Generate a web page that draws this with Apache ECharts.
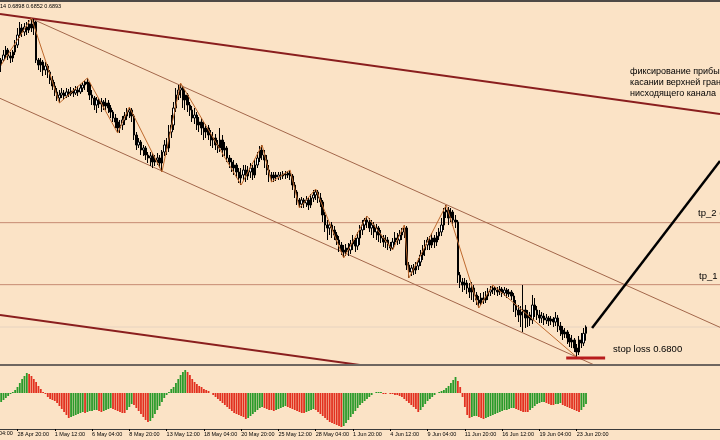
<!DOCTYPE html>
<html><head><meta charset="utf-8">
<script src="https://cdn.jsdelivr.net/npm/echarts@6/dist/echarts.min.js"></script>
<style>html,body{margin:0;padding:0;background:#FBE3C6;}#c{width:720px;height:440px;}</style>
</head><body><div id="c"></div>
<script>
// ---- DATA (prices are in units of 0.0001, e.g. 6800 = 0.6800) ----
const SLOTS = 309;               // bar slots across the window (incl. empty right shift)
const tickFirst = 7, tickStep = 16;
const tickLabels = ['28 Apr 20:00','1 May 12:00','6 May 04:00','8 May 20:00','13 May 12:00','18 May 04:00','20 May 20:00','25 May 12:00','28 May 04:00','1 Jun 20:00','4 Jun 12:00','9 Jun 04:00','11 Jun 20:00','16 Jun 12:00','19 Jun 04:00','23 Jun 20:00'];
// [open, close, low, high]
const ohlc = [
[7679,7694,7658,7700],[7694,7709,7688,7724],[7709,7724,7700,7736],[7724,7706,7694,7730],[7706,7700,7685,7718],
[7700,7718,7688,7724],[7718,7739,7709,7754],[7739,7769,7730,7790],[7769,7790,7760,7808],[7790,7778,7763,7802],
[7778,7793,7766,7805],[7793,7784,7769,7808],[7784,7802,7775,7814],[7802,7790,7778,7820],[7790,7808,7769,7817],
[7808,7694,7685,7811],[7694,7679,7664,7700],[7679,7688,7658,7700],[7688,7664,7646,7694],[7664,7676,7649,7688],
[7676,7658,7640,7682],[7658,7634,7622,7664],[7634,7616,7604,7646],[7616,7598,7586,7628],[7598,7580,7571,7610],
[7580,7589,7565,7604],[7589,7595,7580,7610],[7595,7586,7574,7604],[7586,7598,7580,7610],[7598,7592,7583,7607],
[7592,7601,7586,7613],[7601,7595,7583,7610],[7595,7604,7589,7616],[7604,7598,7586,7616],[7598,7610,7592,7622],
[7610,7619,7598,7628],[7619,7628,7604,7634],[7628,7622,7598,7640],[7622,7589,7574,7628],[7589,7580,7559,7604],
[7580,7559,7544,7586],[7559,7574,7535,7583],[7574,7562,7550,7580],[7562,7568,7538,7580],[7568,7556,7544,7574],
[7556,7565,7544,7580],[7565,7550,7535,7574],[7550,7538,7520,7559],[7538,7520,7508,7544],[7520,7508,7490,7532],
[7508,7490,7475,7520],[7490,7499,7475,7514],[7499,7514,7484,7526],[7514,7526,7499,7538],[7526,7538,7514,7550],
[7538,7544,7520,7553],[7544,7526,7508,7550],[7526,7469,7454,7532],[7469,7439,7424,7478],[7439,7448,7430,7460],
[7448,7424,7409,7454],[7424,7430,7406,7439],[7430,7409,7394,7436],[7409,7400,7385,7418],[7400,7406,7376,7418],
[7406,7388,7370,7415],[7388,7394,7376,7409],[7394,7400,7379,7415],[7400,7385,7370,7409],[7385,7418,7358,7424],
[7418,7439,7406,7454],[7439,7430,7409,7460],[7430,7478,7418,7499],[7478,7499,7460,7529],[7499,7550,7484,7568],
[7550,7589,7538,7610],[7589,7604,7574,7619],[7604,7610,7580,7625],[7610,7574,7550,7616],[7574,7589,7544,7604],
[7589,7559,7538,7595],[7559,7544,7526,7568],[7544,7520,7508,7556],[7520,7529,7502,7550],[7529,7499,7484,7538],
[7499,7508,7478,7523],[7508,7490,7469,7520],[7490,7478,7454,7508],[7478,7490,7460,7502],[7490,7469,7454,7499],
[7469,7454,7436,7484],[7454,7460,7430,7478],[7460,7439,7424,7472],[7439,7430,7415,7454],[7430,7454,7418,7490],
[7454,7424,7403,7469],[7424,7430,7406,7448],[7430,7400,7388,7436],[7400,7388,7370,7409],[7388,7370,7358,7400],
[7370,7379,7349,7394],[7379,7358,7340,7385],[7358,7340,7325,7370],[7340,7349,7319,7370],[7349,7364,7334,7379],
[7364,7346,7328,7379],[7346,7358,7334,7376],[7358,7370,7340,7385],[7370,7349,7334,7379],[7349,7379,7340,7394],
[7379,7400,7370,7418],[7400,7424,7388,7436],[7424,7409,7394,7439],[7409,7394,7370,7424],[7394,7364,7349,7409],
[7364,7349,7328,7379],[7349,7340,7328,7358],[7340,7349,7328,7358],[7349,7343,7331,7358],[7343,7349,7334,7358],
[7349,7346,7334,7358],[7346,7352,7337,7361],[7352,7349,7337,7361],[7349,7355,7340,7361],[7355,7346,7334,7364],
[7346,7319,7304,7352],[7319,7298,7280,7328],[7298,7274,7259,7304],[7274,7262,7250,7280],[7262,7274,7250,7283],
[7274,7265,7250,7280],[7265,7274,7253,7286],[7274,7259,7244,7280],[7259,7280,7250,7292],[7280,7289,7268,7304],
[7289,7298,7274,7307],[7298,7280,7265,7304],[7280,7268,7253,7295],[7268,7229,7208,7274],[7229,7199,7178,7238],
[7199,7190,7154,7214],[7190,7199,7169,7208],[7199,7184,7160,7208],[7184,7169,7154,7196],[7169,7154,7139,7178],
[7154,7139,7118,7166],[7139,7124,7109,7148],[7124,7118,7100,7139],[7118,7130,7106,7142],[7130,7124,7106,7145],
[7124,7142,7112,7154],[7142,7154,7124,7169],[7154,7136,7118,7160],[7136,7160,7124,7178],[7160,7184,7139,7199],
[7184,7199,7169,7214],[7199,7214,7184,7220],[7214,7208,7190,7226],[7208,7190,7178,7220],[7190,7199,7169,7214],
[7199,7178,7160,7208],[7178,7190,7154,7202],[7190,7169,7148,7196],[7169,7160,7145,7184],[7160,7148,7133,7169],
[7148,7154,7130,7169],[7154,7139,7124,7163],[7139,7130,7121,7148],[7130,7148,7124,7160],[7148,7160,7139,7178],
[7160,7154,7139,7175],[7154,7169,7142,7184],[7169,7178,7154,7190],[7178,7190,7160,7199],[7190,7079,7064,7196],
[7079,7058,7040,7088],[7058,7070,7046,7079],[7070,7064,7049,7082],[7064,7076,7052,7088],[7076,7088,7064,7100],
[7088,7109,7076,7124],[7109,7124,7094,7139],[7124,7139,7106,7154],[7139,7154,7124,7163],[7154,7139,7124,7166],
[7139,7160,7130,7175],[7160,7148,7130,7169],[7148,7166,7136,7178],[7166,7178,7154,7190],[7178,7199,7166,7220],
[7199,7238,7184,7250],[7238,7244,7220,7259],[7244,7220,7199,7253],[7220,7238,7208,7250],[7238,7214,7196,7244],
[7214,7208,7190,7229],[7208,7049,7025,7214],[7049,7028,7010,7058],[7028,7019,6998,7040],[7019,7025,7004,7040],
[7025,7010,6992,7034],[7010,6998,6980,7025],[6998,7010,6974,7028],[7010,6989,6968,7019],[6989,6974,6959,6998],
[6974,6965,6950,6986],[6965,6980,6959,6995],[6980,6974,6962,6998],[6974,6986,6965,7001],[6986,6998,6974,7010],
[6998,7004,6986,7016],[7004,7010,6992,7019],[7010,7004,6989,7016],[7004,6998,6986,7013],[6998,7007,6989,7016],
[7007,6995,6983,7013],[6995,7004,6986,7013],[7004,6992,6980,7010],[6992,6998,6983,7007],[6998,6986,6974,7004],
[6986,6959,6938,6995],[6959,6944,6923,6974],[6944,6929,6908,6959],[6929,6938,6893,6956],[6938,6944,6878,7019],
[6944,6920,6890,6959],[6920,6929,6893,6944],[6929,6914,6896,6938],[6914,6959,6902,6989],[6959,6944,6923,6980],
[6944,6929,6914,6956],[6929,6920,6905,6944],[6920,6926,6905,6938],[6926,6914,6899,6935],[6914,6920,6902,6932],
[6920,6911,6896,6926],[6911,6917,6899,6926],[6917,6908,6893,6923],[6908,6920,6896,6938],[6920,6896,6878,6929],
[6896,6884,6866,6908],[6884,6872,6854,6896],[6872,6878,6860,6890],[6878,6860,6842,6884],[6860,6848,6833,6872],
[6848,6854,6830,6869],[6854,6830,6818,6860],[6830,6818,6803,6842],[6818,6854,6809,6866],[6854,6845,6830,6875],
[6845,6874,6836,6890],[6874,6893,6852,6898]
];
// oscillator histogram (one value per bar)
const osma = [
-9,-7,-5,-3,-1, 1,3,6,10,14,17,20, 19,17,14,11,7,4,1,
-1,-4,-6,-7,-8,-10,-13,-16,-19,-22,-25, -24,-23,-22,-21,-20,-19, -20, -19,-18,-18,-17,-17, -18,-19,
-18,-17,-16,-15, -16,-17,-18,-19,-20,-20, -17,-14,-11, -12, -15,-18,-21,-24,-27,-29,
-28,-25,-21,-17,-13,-9,-5,-2,1,4, 6,10,14,18,21,23, 21,18,14,11,9,7,6,4,3,2,0,
-2,-4,-6,-8,-10,-12,-14,-16,-18,-20,-21,-22,-23,-24,-26, -25,-23,-21,-19,-17,-15,-14,
-15,-16,-17,-17,-18, -17,-16,-15,-14,-13, -14,-15,-16,-17,-18,-19,-20,-20, -19,-18,-17,-16,
-17,-19,-21,-23,-25,-27,-29,-30,-31,-32,-33,-34, -33,-30,-27,-24,-21,-18,-15,-12,
-10,-8,-6,-4,-2,0, 1,1,1, -1,-1,0,-1, -1,-2,-2,-3,-4,-6,-8,-10,-12,-14,-16,-19,
-17,-14,-11,-8,-6,-4,-2,0, 1,2,3,5,7,10,13,16, 12,6,-4,-14,-22,-25, -24,-23,-23, -24,-25,-26,
-25,-24,-23,-22,-21,-20,-19,-18,-17,-17,-16,-15,-15, -16,-17,-18,-19,-19,-19,
-17,-15,-13,-11,-10,-9,-9, -10,-11,-12,-12, -11,-11,-10, -12,-13,-14,-15,-16,-17,-18,-19, -17,-14,-11
];
// zigzag swing points [bar, price]
const zigzag = [[0,7679],[13,7820],[25,7565],[37,7640],[50,7475],[55,7553],[69,7358],[77,7625],[103,7319],[112,7439],[116,7328],[124,7364],[128,7250],[135,7307],[147,7100],[157,7226],[168,7124],[173,7199],[175,7040],[191,7259],[205,6950],[211,7019],[247,6803]];
// trend lines [bar, price]
const channelUpper = [[12.4,7820],[308.5,6892]];
const channelLower = [[-0.5,7579],[308.5,6610]];
const bigUpper = [[-0.5,7832],[308.5,7532]];
const bigLower = [[-0.5,6929],[308.5,6629]];
const forecast = [[253.6,6890],[308.5,7391]];
const tp2 = 7206, tp1 = 7020, bid = 6893, stopLoss = 6800;
const stopSpan = [242.5, 259.2];
const headerText = '14 0.6898 0.6852 0.6893';
const noteLines = ['фиксирование прибы','касании верхней гран','нисходящего канала'];

// ---- CHART ----
const chart = echarts.init(document.getElementById('c'), null, {renderer:'canvas'});
const slots = Array.from({length: SLOTS}, (_, i) => String(i));
const isTick = i => i >= tickFirst && (i - tickFirst) % tickStep === 0 && (i - tickFirst) / tickStep < tickLabels.length;
const GREEN = '#2A9A2A', RED = '#E2301F';
let prevColor = GREEN;
const osmaData = osma.map((v, i) => {
  let c = prevColor;
  if (i > 0) { if (v > osma[i-1]) c = GREEN; else if (v < osma[i-1]) c = RED; }
  prevColor = c;
  return {value: v, itemStyle: {color: c}};
});
const hline = v => [[-0.5, v], [308.5, v]];
const lineS = (data, color, width, extra) => Object.assign({
  type: 'line', xAxisIndex: 1, yAxisIndex: 0, data, symbol: 'none', silent: true,
  lineStyle: {color, width}, z: 3
}, extra || {});

const option = {
  animation: false,
  backgroundColor: '#FBE3C6',
  grid: [
    {left: 0, right: 0, top: 3, height: 362},
    {left: 0, right: 0, top: 367, height: 62}
  ],
  xAxis: [
    {type: 'category', gridIndex: 0, data: slots, show: false, boundaryGap: true},
    {type: 'value', gridIndex: 0, min: -0.5, max: 308.5, show: false},
    {type: 'category', gridIndex: 1, data: slots, boundaryGap: true, position: 'bottom',
     axisLine: {show: true, onZero: false, lineStyle: {color: '#3a3a3a', width: 1}},
     axisTick: {show: true, alignWithLabel: true, length: 2, interval: (i) => isTick(i), lineStyle: {color: '#000'}},
     axisLabel: {show: true, interval: (i) => isTick(i), align: 'left', margin: 2, fontSize: 5.5,
       fontFamily: 'Liberation Sans', color: '#000',
       formatter: (v, i) => isTick(i) ? tickLabels[(i - tickFirst) / tickStep] : ''},
     splitLine: {show: false}}
  ],
  yAxis: [
    {type: 'value', gridIndex: 0, min: 6779, max: 7865, show: false},
    {type: 'value', gridIndex: 1, min: -36, max: 26, show: false}
  ],
  series: [
    lineS(hline(tp2), '#C58A72', 1),
    lineS(hline(tp1), '#C58A72', 1),
    lineS(hline(bid), '#E6D3C0', 1),
    lineS(channelUpper, '#A2664A', 1),
    lineS(channelLower, '#A2664A', 1),
    lineS(bigUpper, '#8A1E1E', 2),
    lineS(bigLower, '#8A1E1E', 2),
    {type: 'candlestick', xAxisIndex: 0, yAxisIndex: 0, data: ohlc, barWidth: 2, z: 4,
     itemStyle: {color: '#FFFFFF', color0: '#000000', borderColor: '#000000', borderColor0: '#000000', borderWidth: 1}},
    lineS(zigzag, '#BF6A2E', 1, {z: 5}),
    lineS(forecast, '#000000', 2.5, {z: 6}),
    lineS([[stopSpan[0], stopLoss], [stopSpan[1], stopLoss]], '#B81C1C', 3, {z: 6}),
    {type: 'bar', xAxisIndex: 2, yAxisIndex: 1, data: osmaData, barWidth: 1.8, barGap: '0%'}
  ],
  graphic: [
    {type: 'rect', shape: {x: 0, y: 0, width: 720, height: 2}, style: {fill: '#4E4A46'}, z: 10},
    {type: 'rect', shape: {x: 0, y: 364, width: 720, height: 2}, style: {fill: '#6E6660'}, z: 10},
    {type: 'text', left: 0, top: 3, style: {text: headerText, font: '5.5px "Liberation Sans"', fill: '#000'}, z: 10},
    {type: 'text', left: -1, top: 430, style: {text: '04:00', font: '5.5px "Liberation Sans"', fill: '#000'}, z: 10},
    {type: 'text', left: 630, top: 66, style: {text: noteLines.join('\n'), font: '9px "Liberation Sans"', lineHeight: 11, fill: '#000'}, z: 10},
    {type: 'text', left: 698, top: 208, style: {text: 'tp_2 (', font: '9.5px "Liberation Sans"', fill: '#000'}, z: 10},
    {type: 'text', left: 699, top: 271, style: {text: 'tp_1', font: '9.5px "Liberation Sans"', fill: '#000'}, z: 10},
    {type: 'text', left: 613, top: 344, style: {text: 'stop loss 0.6800', font: '9.5px "Liberation Sans"', fill: '#000'}, z: 10}
  ]
};
chart.setOption(option);
</script></body></html>
